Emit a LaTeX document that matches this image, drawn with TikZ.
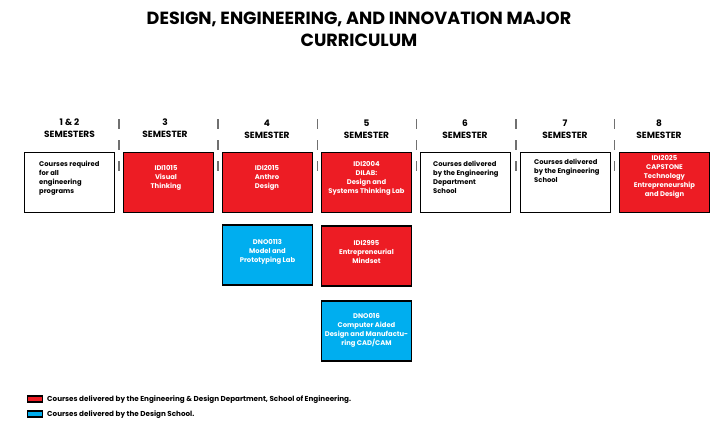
\documentclass[tikz,border=0pt]{standalone}
\usepackage{fontspec}
\setmainfont{Poppins}
\definecolor{dred}{HTML}{ED1C24}
\definecolor{dblue}{HTML}{00AEEF}
\definecolor{sepgray}{HTML}{707070}
\begin{document}
\begin{tikzpicture}[x=1pt,y=-1pt,
  box/.style={draw=black,line width=1.6pt,minimum width=90pt,minimum height=60pt,inner sep=0pt},
  redbox/.style={box,fill=dred},
  bluebox/.style={box,fill=dblue},
  whitebox/.style={box,fill=white},
  intext/.style={font=\fontsize{6.8}{9}\selectfont\bfseries,text=white,align=center,inner sep=0pt},
  bltext/.style={font=\fontsize{6.8}{9}\selectfont\bfseries,text=black,align=left,anchor=north west,inner sep=0pt},
  head/.style={font=\fontsize{9}{12}\selectfont\bfseries,align=center,inner sep=0pt},
  sepline/.style={draw=sepgray,line width=1.3pt,dash pattern=on 10pt off 11pt},
  swatch/.style={draw=black,line width=1.2pt,minimum width=15pt,minimum height=6pt,inner sep=0pt},
  legtext/.style={font=\fontsize{7.2}{8}\selectfont\bfseries,anchor=west,inner sep=0pt}
]
\useasboundingbox (0,0) rectangle (718,429);
% title
\node[font=\fontsize{17.6}{22}\selectfont\bfseries,align=center,inner sep=0pt] (title) at (359,29)
  {DESIGN, ENGINEERING, AND INNOVATION MAJOR\\CURRICULUM};
% headers
\node[head] (h1) at (69.5,128) {1 \& 2\\SEMESTERS};
\node[head] (h3) at (165,128) {3\\SEMESTER};
\node[head] (h4) at (267,129) {4\\SEMESTER};
\node[head] (h5) at (366.5,129) {5\\SEMESTER};
\node[head] (h6) at (465,129) {6\\SEMESTER};
\node[head] (h7) at (565,129) {7\\SEMESTER};
\node[head] (h8) at (659,129) {8\\SEMESTER};
% separators
\foreach \sx/\nm in {119/s1,218/s2,317.5/s3,416.5/s4,516/s5,614.5/s6}{
  \coordinate (\nm a) at (\sx,119);
  \coordinate (\nm b) at (\sx,172);
  \draw[sepline] (\nm a) -- (\nm b);
}
% row 1
\node[whitebox] (b1) at (69.5,182.5) {};
\node[bltext] (t1) at (39,160.5) {Courses required\\for all\\engineering\\programs};
\node[redbox] (b3) at (168.5,182.5) {};
\node[intext] (t3) at (166,178) {IDI1015\\Visual\\Thinking};
\node[redbox] (b4) at (267.5,182.5) {};
\node[intext] (t4) at (267,178) {IDI2015\\Anthro\\Design};
\node[redbox] (b5) at (366.5,182.5) {};
\node[intext] (t5) at (366.5,178) {IDI2004\\DILAB:\\Design and\\Systems Thinking Lab};
\node[whitebox] (b6) at (465.5,182.5) {};
\node[bltext] (t6) at (433,160.5) {Courses delivered\\by the Engineering\\Department\\School};
\node[whitebox] (b7) at (565.5,182.5) {};
\node[bltext] (t7) at (534,158.5) {Courses delivered\\by the Engineering\\School};
\node[redbox] (b8) at (664.5,182.5) {};
\node[intext] (t8) at (664.5,177) {IDI2025\\CAPSTONE\\Technology\\Entrepreneurship\\and Design};
% row 2
\node[bluebox] (b4b) at (267.5,255) {};
\node[intext] (t4b) at (267.5,252) {DNO0113\\Model and\\Prototyping Lab};
\node[redbox] (b5b) at (366.5,256) {};
\node[intext] (t5b) at (366.5,252) {IDI2995\\Entrepreneurial\\Mindset};
% row 3
\node[bluebox] (b5c) at (366.5,331) {};
\node[intext] (t5c) at (366.5,330) {DNO016\\Computer Aided\\Design and Manufactu-\\ring CAD/CAM};
% legend
\node[swatch,fill=dred] (lr) at (35,399) {};
\node[legtext] (lrt) at (47,399.5) {Courses delivered by the Engineering \& Design Department, School of Engineering.};
\node[swatch,fill=dblue] (lb) at (35,414) {};
\node[legtext] (lbt) at (47,414.5) {Courses delivered by the Design School.};
\end{tikzpicture}
\end{document}
